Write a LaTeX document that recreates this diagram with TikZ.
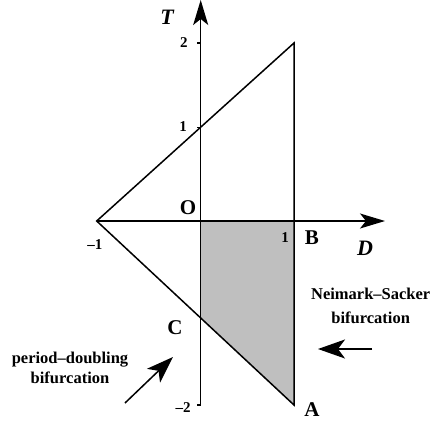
\documentclass[tikz,border=0pt]{standalone}
\usepackage{fontspec}
\setmainfont{Liberation Serif}
\usetikzlibrary{arrows.meta, positioning}

\begin{document}
\begin{tikzpicture}[
                x=1pt, y=1pt,
                edge/.style={line width=1.5pt},
                axis/.style={line width=1.4pt, -{Stealth[length=25pt,width=15pt,inset=6pt]}},
                tickmark/.style={line width=1.4pt},
                ticklabel/.style={font=\fontsize{15}{17}\selectfont\bfseries, inner sep=1pt},
                point/.style={font=\fontsize{21}{24}\selectfont\bfseries, inner sep=1pt},
                axlabel/.style={font=\fontsize{22}{24}\selectfont\bfseries\itshape, inner sep=1pt},
                note/.style={font=\fontsize{16.5}{20}\selectfont\bfseries, align=center, inner sep=1pt},
                hint/.style={line width=1.5pt, -{Stealth[length=27pt,width=19pt,inset=7pt]}}
            ]%
            \useasboundingbox (-200.7,-200) rectangle (235.3,221);
            %
            % Vertices of the stability triangle
            \coordinate (left) at (-104,0);
            \coordinate (top) at (93.3,178);
            \coordinate (bottom) at (93.3,-184);
            \coordinate (origin) at (0,0);
            \coordinate (right) at (93.3,0);
            \coordinate (cross) at (0,-97);
            \coordinate (upper) at (0,93.8);
            \coordinate (axistop) at (0,178);
            \coordinate (axisend) at (0,-184);
            \coordinate (Dtip) at (184.3,0);
            \coordinate (Ttip) at (0,221);
            %
            % Shaded region
            \fill[black!25] (origin) -- (right) -- (bottom) -- (cross) -- cycle;
            %
            % Axes
            \draw[axis] (left) -- (Dtip);
            \draw[axis] (axisend) -- (Ttip);
            \draw[tickmark] (axisend) -- ++(-4,0);
            \draw[tickmark] (upper) -- ++(-4,0);
            \draw[tickmark] (axistop) -- ++(-4,0);
            %
            % Triangle
            \draw[edge] (left) -- (top) -- (bottom) -- cycle;
            %
            % Labels
            \node[axlabel] (Tlab) at (-33.7,204) {T};
            \node[axlabel] (Dlab) at (164.3,-27) {D};
            \node[ticklabel] (two) at (-16.7,178) {2};
            \node[ticklabel] (one) at (-17.7,94) {1};
            \node[ticklabel] (mone) at (-105.7,-24) {–1};
            \node[ticklabel] (xone) at (84.3,-17) {1};
            \node[ticklabel] (mtwo) at (-17.7,-187) {–2};
            \node[point] (O) at (-12.7,13) {O};
            \node[point] (B) at (111.3,-17) {B};
            \node[point] (C) at (-25.7,-107) {C};
            \node[point] (A) at (111.3,-189) {A};
            %
            % Bifurcation notes
            \node[note] (pd) at (-130.7,-147) {period–doubling\\bifurcation};
            \node[note] (ns) at (170,-85) {Neimark–Sacker\\[4pt]bifurcation};
            \coordinate (pdtail) at (-75.7,-182);
            \coordinate (pdtip) at (-27.7,-136);
            \coordinate (nstail) at (171.3,-128);
            \coordinate (nstip) at (117.3,-128);
            \draw[hint] (pdtail) -- (pdtip);
            \draw[hint] (nstail) -- (nstip);
        \end{tikzpicture}
\end{document}
